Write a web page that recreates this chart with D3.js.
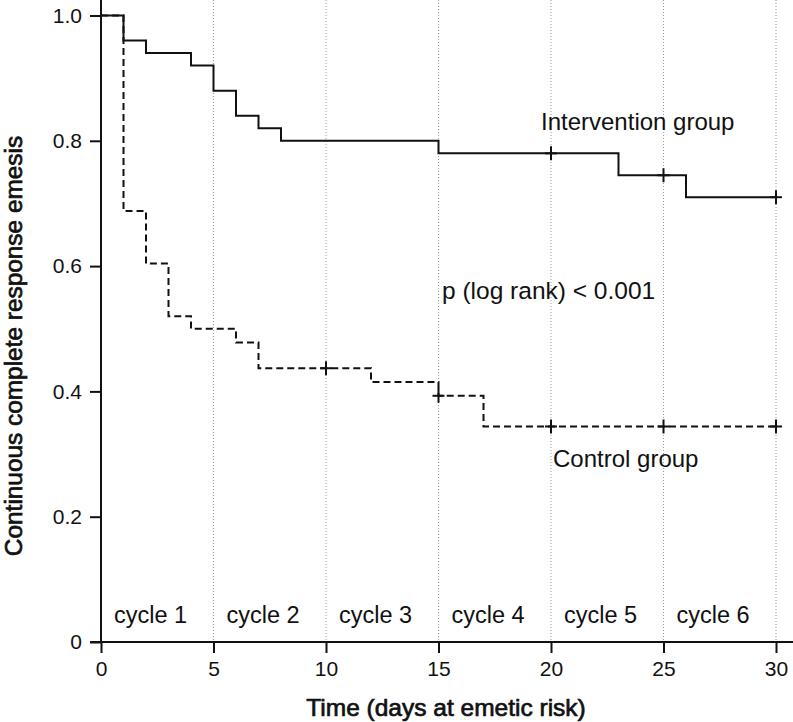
<!DOCTYPE html>
<html>
<head>
<meta charset="utf-8">
<script src="https://cdn.jsdelivr.net/npm/d3@7"></script>
<style>
  html, body { margin: 0; padding: 0; background: #fff; }
  svg { display: block; font-family: "Liberation Sans", Arial, sans-serif; }
</style>
</head>
<body>
<svg id="chart" width="793" height="722"></svg>
<script>
// ---- data ----
const interventionTimes = [0, 1, 2, 4, 5, 6, 7, 8, 15, 23, 26];
const interventionSurv  = [1.0, 0.96, 0.94, 0.92, 0.88, 0.84, 0.82, 0.80, 0.78, 0.745, 0.71];
const interventionCensor = [20, 25, 30];

const controlTimes = [0, 1, 2, 3, 4, 6, 7, 12, 15, 17];
const controlSurv  = [1.0, 0.688, 0.604, 0.52, 0.50, 0.478, 0.437, 0.415, 0.393, 0.344];
const controlCensor = [10, 15, 20, 25, 30];

const endTime = 30;
const xTicks = [0, 5, 10, 15, 20, 25, 30];
const yTicks = [0, 0.2, 0.4, 0.6, 0.8, 1.0];
const cycleStarts = [0, 5, 10, 15, 20, 25];
const cycleLabels = ["cycle 1", "cycle 2", "cycle 3", "cycle 4", "cycle 5", "cycle 6"];

// ---- setup ----
const svg = d3.select("#chart");
const x = d3.scaleLinear().domain([0, 30]).range([101, 776]);
const y = d3.scaleLinear().domain([0, 1]).range([642, 15.5]);

function survAt(times, surv, t) {
  let v = surv[0];
  for (let i = 0; i < times.length; i++) if (times[i] <= t) v = surv[i];
  return v;
}

// dotted cycle separators
svg.append("g").selectAll("line")
  .data(xTicks.filter(d => d > 0))
  .join("line")
  .attr("x1", d => x(d)).attr("x2", d => x(d))
  .attr("y1", 0).attr("y2", y(0))
  .attr("stroke", "#9a9a9a").attr("stroke-width", 1)
  .attr("stroke-dasharray", "1,2");

// axes
const xAxis = d3.axisBottom(x).tickValues(xTicks).tickSize(11).tickPadding(8).tickFormat(d3.format("d"));
const gx = svg.append("g").attr("transform", `translate(0,${y(0)})`).call(xAxis);
gx.select(".domain").remove();
gx.selectAll("line").attr("stroke", "#111").attr("stroke-width", 2);
gx.selectAll("text").attr("font-size", 21).attr("fill", "#111")
  .attr("font-family", "Liberation Sans, Arial, sans-serif");

const yAxis = d3.axisLeft(y).tickValues(yTicks).tickSize(11).tickPadding(8)
  .tickFormat(d => d === 0 ? "0" : d3.format(".1f")(d));
const gy = svg.append("g").attr("transform", `translate(${x(0)},0)`).call(yAxis);
gy.select(".domain").remove();
gy.selectAll("line").attr("stroke", "#111").attr("stroke-width", 2);
gy.selectAll("text").attr("font-size", 21).attr("fill", "#111")
  .attr("font-family", "Liberation Sans, Arial, sans-serif");

// axis lines
svg.append("line").attr("x1", x(0) - 11).attr("x2", 793)
  .attr("y1", y(0)).attr("y2", y(0)).attr("stroke", "#111").attr("stroke-width", 2);
svg.append("line").attr("x1", x(0)).attr("x2", x(0))
  .attr("y1", 0).attr("y2", y(0)).attr("stroke", "#111").attr("stroke-width", 2);

// curves
const line = d3.line().x(d => x(d[0])).y(d => y(d[1])).curve(d3.curveStepAfter);
const intData = interventionTimes.map((t, i) => [t, interventionSurv[i]]);
intData.push([endTime, interventionSurv[interventionSurv.length - 1]]);
const ctlData = controlTimes.map((t, i) => [t, controlSurv[i]]);
ctlData.push([endTime, controlSurv[controlSurv.length - 1]]);

svg.append("path").datum(ctlData).attr("d", line)
  .attr("fill", "none").attr("stroke", "#111").attr("stroke-width", 2)
  .attr("stroke-dasharray", "7,4");
svg.append("path").datum(intData).attr("d", line)
  .attr("fill", "none").attr("stroke", "#111").attr("stroke-width", 2);

// censor marks
function drawCensor(times, tvals, svals) {
  const g = svg.append("g");
  times.forEach(t => {
    const cx = x(t), cy = y(survAt(tvals, svals, t));
    g.append("line").attr("x1", cx).attr("x2", cx).attr("y1", cy - 7).attr("y2", cy + 7)
      .attr("stroke", "#111").attr("stroke-width", 2);
    g.append("line").attr("x1", cx - 6).attr("x2", cx + 6).attr("y1", cy).attr("y2", cy)
      .attr("stroke", "#111").attr("stroke-width", 2);
  });
}
drawCensor(interventionCensor, interventionTimes, interventionSurv);
drawCensor(controlCensor, controlTimes, controlSurv);

// cycle labels
svg.append("g").selectAll("text")
  .data(cycleStarts)
  .join("text")
  .attr("x", d => x(d) + 13)
  .attr("y", 623)
  .attr("font-size", 23.5)
  .attr("fill", "#111")
  .text((d, i) => cycleLabels[i]);

// annotations
svg.append("text").attr("x", 541).attr("y", 130).attr("font-size", 24).attr("fill", "#111")
  .text("Intervention group");
svg.append("text").attr("x", 553).attr("y", 467).attr("font-size", 24).attr("fill", "#111")
  .text("Control group");
svg.append("text").attr("x", 442).attr("y", 299).attr("font-size", 24.5).attr("fill", "#111")
  .text("p (log rank) < 0.001");

// axis titles
svg.append("text").attr("x", 446).attr("y", 716).attr("text-anchor", "middle")
  .attr("font-size", 24.5).attr("fill", "#111")
  .attr("stroke", "#111").attr("stroke-width", 0.7)
  .text("Time (days at emetic risk)");
svg.append("text").attr("transform", "translate(22,346) rotate(-90)").attr("text-anchor", "middle")
  .attr("font-size", 24.4).attr("fill", "#111")
  .attr("stroke", "#111").attr("stroke-width", 0.7)
  .text("Continuous complete response emesis");
</script>
</body>
</html>
